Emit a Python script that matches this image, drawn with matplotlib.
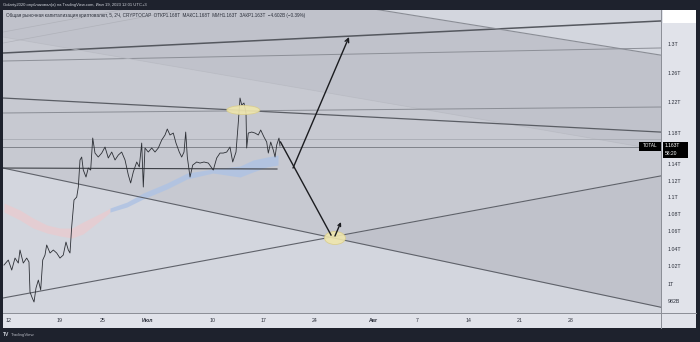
import numpy as np
import matplotlib.pyplot as plt
from matplotlib.patches import Ellipse, Rectangle
from matplotlib.transforms import ScaledTranslation
from matplotlib.ticker import NullLocator

plt.rcParams['font.family'] = ['Liberation Sans', 'DejaVu Sans']

W, H = 700, 342

# x = days since 12 Jun 2023, y = total crypto market cap in trillions USD
price_days = [-0.55, 0.04, 0.51, 0.96, 1.41, 1.64, 2.09, 2.56, 2.87, 3.01, 3.32, 3.56, 3.83,
              4.15, 4.47, 4.75, 5.06, 5.29, 5.75, 6.20, 6.66, 7.11, 7.56, 7.93, 8.25, 8.48,
              8.71, 9.03, 9.40, 9.62, 9.85, 10.08, 10.30, 10.67, 10.98, 11.31, 11.59, 11.90,
              12.35, 12.82, 13.27, 13.72, 14.19, 14.64, 15.09, 15.55, 16.01, 16.46, 16.78,
              17.14, 17.61, 17.96, 18.29, 18.51, 18.74, 19.19, 19.66, 20.11, 20.56, 21.03,
              21.48, 21.79, 22.16, 22.61, 22.98, 23.43, 23.76, 24.08, 24.31, 24.53, 24.90,
              25.27, 25.81, 26.27, 26.81, 27.40, 28.08, 28.55, 29.00, 29.45, 29.92, 30.37,
              30.74, 31.19, 31.50, 31.74, 31.97, 32.28, 32.56, 32.65, 32.87, 33.34, 33.79,
              34.24, 34.57, 35.02, 35.39, 35.61, 35.94, 36.29, 36.53, 36.76, 37.07, 37.21]
price_vals = [1.0214, 1.0270, 1.0158, 1.0292, 1.0236, 1.0383, 1.0236, 1.0292, 1.0248, 0.9917,
              0.9853, 0.9810, 0.9961, 1.0048, 0.9939, 1.0270, 1.0326, 1.0440, 1.0349, 1.0383,
              1.0349, 1.0292, 1.0326, 1.0474, 1.0383, 1.0349, 1.0647, 1.0965, 1.1001, 1.1122,
              1.1455, 1.1492, 1.1330, 1.1244, 1.1355, 1.1330, 1.1733, 1.1542, 1.1492, 1.1542,
              1.1618, 1.1480, 1.1555, 1.1455, 1.1517, 1.1555, 1.1455, 1.1269, 1.1171, 1.1306,
              1.1430, 1.1368, 1.1669, 1.1122, 1.1606, 1.1555, 1.1606, 1.1555, 1.1606, 1.1708,
              1.1772, 1.1849, 1.1772, 1.1797, 1.1669, 1.1555, 1.1492, 1.1555, 1.1810, 1.1492,
              1.1244, 1.1392, 1.1430, 1.1417, 1.1430, 1.1417, 1.1330, 1.1480, 1.1542, 1.1542,
              1.1555, 1.1618, 1.1430, 1.1555, 1.1927, 1.2257, 1.2163, 1.2190, 1.2058, 1.1606,
              1.1797, 1.1810, 1.1797, 1.1772, 1.1836, 1.1746, 1.1682, 1.1542, 1.1682, 1.1580,
              1.1492, 1.1644, 1.1733, 1.1631]

# moving average ribbon (pink while falling, blue after the turn)
ribbon_days = [-0.55, 1.64, 3.42, 5.34, 7.11, 8.76, 10.26, 12.18, 13.54, 13.95, 16.28, 18.47,
               21.75, 24.49, 28.04, 31.74, 33.52, 35.43, 36.94]
ribbon_top = [1.0929, 1.0846, 1.0752, 1.0670, 1.0635, 1.0635, 1.0705, 1.0787, 1.0846, 1.0870,
              1.0941, 1.1049, 1.1171, 1.1293, 1.1343, 1.1380, 1.1455, 1.1492, 1.1517]
ribbon_bot = [1.0822, 1.0728, 1.0635, 1.0577, 1.0543, 1.0520, 1.0566, 1.0693, 1.0787, 1.0822,
              1.0882, 1.0977, 1.1098, 1.1220, 1.1293, 1.1244, 1.1306, 1.1368, 1.1392]
ribbon_turn = 13.6

# drawn trend lines: ([day0, day1], [price0, price1])
line_a = ([-0.68, 89.2], [1.2874, 1.3332])
line_b = ([-0.68, 89.2], [1.2762, 1.2945])
line_c = ([-0.68, 89.2], [1.4415, 1.2846])
line_k = ([-0.68, 89.2], [1.3101, 1.1580])
line_f = ([-0.68, 89.2], [1.2257, 1.1810])
line_g = ([-0.68, 89.2], [1.2058, 1.2137])
line_h = ([-0.68, 89.2], [1.1720, 1.1720])
line_i = ([-0.68, 89.2], [1.1618, 1.1618])
line_d = ([-0.68, 89.2], [1.1355, 0.9756])
line_e = ([-0.68, 89.2], [0.9853, 1.1256])
fan_1 = ([-0.68, 15.46], [1.3172, 1.3493])
fan_2 = ([-0.68, 23.67], [1.3015, 1.3493])
support = ([-0.68, 36.8], [1.1355, 1.1343])

path_down = ([37.28, 44.19], [1.1682, 1.0554])
arrow_up = ([38.99, 46.65], [1.1355, 1.3101])
arrow_small = ([44.73, 45.55], [1.0543, 1.0705])
ellipse_top = (32.19, 1.2097)
ellipse_bottom = (44.73, 1.0520)

price_ticks = [1.3, 1.26, 1.22, 1.18, 1.14, 1.12, 1.1, 1.08, 1.06, 1.04, 1.02, 1.0, 0.982]
price_labels = ['1.3T', '1.26T', '1.22T', '1.18T', '1.14T', '1.12T', '1.1T', '1.08T',
                '1.06T', '1.04T', '1.02T', '1T', '982B']
date_ticks = [0, 7, 13, 19, 28, 35, 42, 50, 56, 63, 70, 77]
date_labels = ['12', '19', '25', 'Июл', '10', '17', '24', 'Авг', '7', '14', '21', '28']
last_price = 1.163


def seg_price(days, seg):
    (d0, d1), (p0, p1) = seg
    t = (np.asarray(days, dtype=float) - d0) / (d1 - d0)
    return np.exp(np.log(p0) + t * (np.log(p1) - np.log(p0)))


def fx(x):
    return x / W


def fy(y):
    return 1 - y / H


fig = plt.figure(figsize=(7, 3.42), dpi=100, facecolor='#1e222d')
ax = fig.add_axes([fx(3), fy(313), fx(658), (313 - 10) / H])
ax.set_facecolor('#d3d6de')
ax.set_yscale('log')
ax.set_xlim(-0.684, 89.33)
ax.set_ylim(0.9693, 1.3493)

xs = np.linspace(-1, 90, 600)
pd_, pe_ = seg_price(xs, line_d), seg_price(xs, line_e)
upper = np.maximum(pd_, pe_)
pk, pc = seg_price(xs, line_k), seg_price(xs, line_c)
ax.fill_between(xs, upper, pk, color='#c7c9d1', lw=0, zorder=0)
ax.fill_between(xs, pk, pc, color='#c0c2cb', lw=0, zorder=0)
ax.fill_between(xs, pd_, pe_, where=pe_ > pd_, color='#c0c2cb', lw=0, zorder=0)

# ribbon
rd = np.array(ribbon_days)
pink = rd <= ribbon_turn + 0.5
ax.fill_between(rd[pink], np.array(ribbon_bot)[pink], np.array(ribbon_top)[pink],
                color='#e6cdd1', lw=0, alpha=0.9, zorder=1)
blue = rd >= ribbon_turn
ax.fill_between(rd[blue], np.array(ribbon_bot)[blue], np.array(ribbon_top)[blue],
                color='#afc3e3', lw=0, alpha=0.85, zorder=1)

line_styles = [
    (line_a, '#55585f', 1.1), (line_b, '#8c8f97', 0.7), (line_c, '#8a8d95', 0.8),
    (line_k, '#b9bbc3', 0.5), (line_f, '#5a5d64', 0.9), (line_g, '#8a8d95', 0.7),
    (line_h, '#a9acb4', 0.6), (line_i, '#7f828a', 0.7), (line_d, '#5f626a', 0.8),
    (line_e, '#5f626a', 0.8), (fan_1, '#b0b2ba', 0.5), (fan_2, '#b0b2ba', 0.5),
]
for seg, col, lw in line_styles:
    ax.plot(xs, seg_price(xs, seg), color=col, lw=lw, zorder=2)
ax.plot(support[0], support[1], color='#3d4046', lw=0.8, zorder=2)

ax.plot(price_days, price_vals, color='#2c2f35', lw=0.6, zorder=4)

# ellipses sized in inches around data centres
for (cx, cy), w, h in [(ellipse_top, 0.33, 0.09), (ellipse_bottom, 0.21, 0.13)]:
    tr = fig.dpi_scale_trans + ScaledTranslation(cx, cy, ax.transData)
    ax.add_patch(Ellipse((0, 0), w, h, transform=tr, facecolor='#efe6ad',
                         edgecolor='#d9cd8c', lw=0.6, alpha=0.9, zorder=5))

ax.plot(path_down[0], path_down[1], color='#1b1c20', lw=1.0, zorder=6)
for seg, ms in [(arrow_up, 7), (arrow_small, 5)]:
    ax.annotate('', xy=(seg[0][1], seg[1][1]), xytext=(seg[0][0], seg[1][0]),
                arrowprops=dict(arrowstyle='->', color='#1b1c20', lw=1.0,
                                shrinkA=0, shrinkB=0, mutation_scale=ms), zorder=6)

ax.yaxis.tick_right()
ax.yaxis.set_minor_locator(NullLocator())
ax.set_yticks(price_ticks)
ax.set_yticklabels(price_labels)
ax.set_xticks(date_ticks)
ax.set_xticklabels(date_labels)
ax.tick_params(axis='y', length=0, pad=5, labelsize=3.8, labelcolor='#2a2e39')
ax.tick_params(axis='x', length=0, pad=3.5, labelsize=3.8, labelcolor='#2a2e39')
for lab in ax.get_xticklabels():
    if lab.get_text() in ('Июл', 'Авг'):
        lab.set_fontweight('bold')
for s in ax.spines.values():
    s.set_visible(False)

# axis panels
fig.patches.append(Rectangle((fx(661), fy(328)), fx(35), (328 - 10) / H,
                             transform=fig.transFigure, facecolor='#e1e3ea', zorder=-1))
fig.patches.append(Rectangle((fx(3), fy(328)), fx(658), 15 / H,
                             transform=fig.transFigure, facecolor='#e1e3ea', zorder=-1))
fig.patches.append(Rectangle((fx(663), fy(23)), fx(33), 13 / H,
                             transform=fig.transFigure, facecolor='#ffffff', zorder=3))
fig.add_artist(plt.Line2D([fx(661), fx(661)], [fy(10), fy(328)], color='#8b8e96', lw=0.7))
fig.add_artist(plt.Line2D([fx(3), fx(696)], [fy(313), fy(313)], color='#8b8e96', lw=0.7))

# last price labels
fig.patches.append(Rectangle((fx(639), fy(150.5)), fx(22), 9 / H,
                             transform=fig.transFigure, facecolor='#000000', zorder=3))
fig.text(fx(650), fy(146), 'TOTAL', color='white', fontsize=3.3, ha='center', va='center', zorder=4)
fig.patches.append(Rectangle((fx(662.5), fy(158)), fx(25), 16.5 / H,
                             transform=fig.transFigure, facecolor='#000000', zorder=3))
fig.text(fx(665), fy(146), f'{last_price:.3f}T', color='white', fontsize=3.6, ha='left', va='center', zorder=4)
fig.text(fx(665), fy(153.5), '58:20', color='white', fontsize=3.6, ha='left', va='center', zorder=4)

# header / footer text
fig.text(fx(3), fy(5), 'Golarty2020 опубликовал(а) на TradingView.com, Июл 19, 2023 12:01 UTC+3',
         color='#d1d4dc', fontsize=3.0, ha='left', va='center')
ax.text(0.005, 0.983,
        'Общая рыночная капитализация криптовалют, 5, 2Ч, CRYPTOCAP  ОТКР1.168T  МАКС1.168T  '
        'МИН1.163T  ЗАКР1.163T  −4.602B (−0.39%)',
        transform=ax.transAxes, color='#2a2e39', fontsize=3.3, ha='left', va='center', zorder=7)
fig.text(fx(3), fy(335), 'TV', color='#d1d4dc', fontsize=3.6, fontweight='bold', ha='left', va='center')
fig.text(fx(11), fy(335), 'TradingView', color='#b2b5be', fontsize=3.2, ha='left', va='center')

fig.savefig('out.png', dpi=100, facecolor=fig.get_facecolor())
